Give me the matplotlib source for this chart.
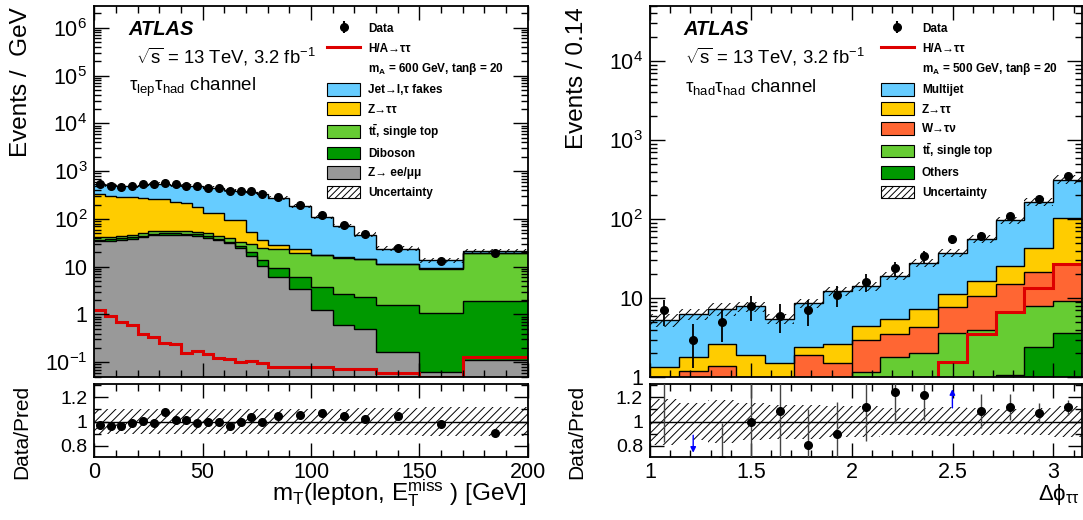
import numpy as np
import matplotlib
matplotlib.use("Agg")
import matplotlib.pyplot as plt
from matplotlib.ticker import MultipleLocator, LogLocator, FuncFormatter, FixedLocator, NullFormatter
from matplotlib.patches import Patch
from matplotlib.lines import Line2D
from matplotlib.font_manager import FontProperties

FAM = ['Liberation Sans', 'DejaVu Sans']
plt.rcParams['font.family'] = FAM
plt.rcParams['mathtext.fontset'] = 'custom'
plt.rcParams['mathtext.rm'] = 'Liberation Sans'
plt.rcParams['mathtext.it'] = 'Liberation Sans:italic'
plt.rcParams['mathtext.bf'] = 'Liberation Sans:bold'
plt.rcParams['mathtext.default'] = 'regular'
plt.rcParams['hatch.linewidth'] = 0.7
plt.rcParams['axes.axisbelow'] = False

# ---------------- tau_lep tau_had : mT(lepton, MET) ----------------
edges_l = [0, 5, 10, 15, 20, 25, 30, 35, 40, 45, 50, 55, 60, 65, 70, 75, 80,
           90, 100, 110, 120, 130, 150, 170, 200]
data_l = [526, 490, 470, 490, 526, 545, 575, 526, 500, 490, 440, 440, 390, 390,
          380, 340, 290, 195, 120, 74, 48, 25, 13.4, 19]
zll_l = [34, 35, 36, 38, 42, 46, 47, 47, 46, 45, 40, 36, 31, 25, 17, 10.5, 6.0,
         3.4, 1.25, 0.6, 0.5, 0.165, 0.062, 0.11]
diboson_l = [3, 3, 3, 3, 3, 3, 3, 3, 3, 3, 3, 2.5, 2.5, 2.5, 3, 3, 3.2, 2.6,
             2.55, 2.15, 1.85, 1.4, 1.0, 1.84]
top_l = [5, 4, 6, 5, 6, 6, 7, 6, 7, 6, 7, 5.5, 5.5, 5.5, 10, 11.5, 14.3, 13.6,
         13.8, 12.7, 11.9, 9.8, 8.1, 17.1]
ztt_l = [298, 260, 247, 236, 222, 210, 200, 173, 155, 126, 85, 91, 56, 62, 24,
         11, 4.5, 3.9, 0.4, 0.2, 0.1, 0.1, 0.1, 0.1]
fakes_l = [201, 207, 196, 215, 250, 285, 277, 292, 284, 315, 306, 305, 310, 295,
           311, 304, 250, 162, 94, 55, 32.7, 12.5, 4.4, 1.9]
signal_l = [1.24, 0.94, 0.71, 0.60, 0.40, 0.34, 0.25, 0.245, 0.16, 0.175, 0.15,
            0.12, 0.115, 0.103, 0.107, 0.098, 0.081, 0.079, 0.079, 0.074, 0.072,
            0.059, 0.05, 0.126]
unc_l = [0.10] * 16 + [0.10, 0.10, 0.10, 0.10, 0.11, 0.11, 0.12, 0.12]

# ---------------- tau_had tau_had : delta phi ----------------
nb_r = 15
edges_r = np.linspace(1.0, np.pi, nb_r + 1)
data_r = [7.0, 3.0, 5.0, 7.9, 6.0, 7.0, 11, 16, 24, 34, 56, 61, 109, 178, 353]
data_err_r = [2.6, 1.7, 2.2, 2.8, 2.4, 2.6, 3.3, 4.0, 4.9, 5.8, 7.5, 7.8, 10.4,
              13.3, 18.8]
others_r = [0.3, 0.3, 0.3, 0.3, 0.3, 0.4, 0.4, 0.5, 0.6, 0.7, 0.8, 0.9, 1.08,
            2.4, 3.6]
top_r = [0.2, 0.2, 0.2, 0.2, 0.2, 0.3, 0.4, 0.66, 1.2, 1.3, 2.8, 3.1, 5.6, 5.5, 5.5]
wtn_r = [0.4, 0.7, 0.87, 0.4, 0.4, 1.2, 0.7, 1.84, 1.7, 2.3, 4.1, 6.8, 8.5, 13.4, 17.9]
ztt_r = [0.44, 0.6, 1.28, 1.04, 0.6, 0.5, 1.1, 1.4, 1.9, 3.0, 3.6, 5.9, 10.3, 21.7, 77]
mj_r = [3.96, 4.5, 4.65, 5.96, 4.0, 6.3, 9.7, 9.9, 13.9, 20.6, 26.4, 39.3, 71.5,
        123, 212]
signal_r = [0.3, 0.3, 0.3, 0.3, 0.3, 0.3, 0.3, 0.4, 0.5, 0.7, 1.55, 3.5, 6.6, 13.4, 27]
unc_r = [0.19, 0.15, 0.18, 0.15, 0.14, 0.14, 0.13, 0.13, 0.11, 0.11, 0.12, 0.11,
         0.10, 0.11, 0.13]

C_BLUE = '#66ccff'
C_YEL = '#ffcc00'
C_LG = '#66cc33'
C_DG = '#009900'
C_GRAY = '#999999'
C_ORNG = '#ff6633'
C_RED = '#dd0000'


def draw_stack(ax, edges, comps, colors):
    bottom = np.full(len(edges) - 1, 1e-4)
    tops = []
    for vals, col in zip(comps, colors):
        top = bottom + np.array(vals, dtype=float)
        ax.stairs(top, edges, baseline=bottom, fill=True, color=col, lw=0, zorder=1)
        tops.append(top)
        bottom = top
    for top in tops:
        ax.stairs(top, edges, baseline=None, color='black', lw=1.0, zorder=1.2)
    return bottom


def log_fmt(v, pos):
    e = int(round(np.log10(v)))
    if e == 0:
        return '1'
    if e == 1:
        return '10'
    return r'$10^{%d}$' % e


def style_axis(ax, lsize=15.5):
    for s in ax.spines.values():
        s.set_linewidth(1.3)
    ax.tick_params(which='both', direction='in', top=True, right=True,
                   labelsize=lsize, width=1.0)
    ax.tick_params(which='major', length=10, pad=5)
    ax.tick_params(which='minor', length=5)


fig = plt.figure(figsize=(10.83, 5.2), dpi=100)

W = 1083.0
H = 520.0


def rect(x0, y0, x1, y1):
    return [x0 / W, 1 - y1 / H, (x1 - x0) / W, (y1 - y0) / H]


axL = fig.add_axes(rect(94.3, 5.7, 527.7, 377.3))
axLr = fig.add_axes(rect(94.3, 384.0, 527.7, 456.7))
axR = fig.add_axes(rect(650.0, 5.7, 1082.0, 377.3))
axRr = fig.add_axes(rect(650.0, 384.0, 1082.0, 456.7))

leg_font = FontProperties(family=FAM, weight='bold', size=8.5)
leg_kw = dict(loc='upper left', frameon=False, prop=leg_font, borderpad=0,
              borderaxespad=0, handlelength=2.8, handleheight=1.27,
              labelspacing=0.52, handletextpad=0.68)

# ---------- left main ----------
e_l = np.array(edges_l, dtype=float)
cen_l = 0.5 * (e_l[:-1] + e_l[1:])
tot_l = draw_stack(axL, e_l, [zll_l, diboson_l, top_l, ztt_l, fakes_l],
                   [C_GRAY, C_DG, C_LG, C_YEL, C_BLUE])
u_l = np.array(unc_l)
axL.stairs(tot_l * (1 + u_l), e_l, baseline=tot_l * (1 - u_l), fill=True,
           facecolor='none', edgecolor='black', hatch='////', lw=0, zorder=1.3)
axL.stairs(signal_l, e_l, baseline=None, color=C_RED, lw=2.2, zorder=1.5)
axL.plot(cen_l, data_l, 'o', color='black', ms=5.5, zorder=3)
axL.set_yscale('log')
axL.set_xlim(0, 200)
axL.set_ylim(0.0485, 2.9e6)
axL.xaxis.set_major_locator(MultipleLocator(50))
axL.xaxis.set_minor_locator(MultipleLocator(10))
axL.yaxis.set_major_locator(LogLocator(base=10, numticks=20))
axL.yaxis.set_minor_locator(LogLocator(base=10, subs=np.arange(2, 10), numticks=100))
axL.yaxis.set_major_formatter(FuncFormatter(log_fmt))
axL.yaxis.set_minor_formatter(NullFormatter())
style_axis(axL)
axL.tick_params(which='major', axis='y', length=11)
axL.tick_params(axis='x', labelbottom=False)

axL.text(0.078, 0.9365, 'ATLAS', transform=axL.transAxes, fontsize=14.5,
         fontweight='bold', fontstyle='italic', va='center', ha='left')
axL.text(0.097, 0.862, r'$\sqrt{s}$ = 13 TeV, 3.2 fb$^{-1}$', transform=axL.transAxes,
         fontsize=13.3, va='center', ha='left')
axL.text(0.080, 0.781, r'$\tau_{lep}\tau_{had}$ channel', transform=axL.transAxes,
         fontsize=13.5, va='center', ha='left')

h_data = axL.errorbar([np.nan], [np.nan], yerr=[1], fmt='o', color='black', ms=5.5)
handles_l = [
    h_data,
    Line2D([], [], color=C_RED, lw=2.2),
    Line2D([], [], linestyle='none'),
    Patch(facecolor=C_BLUE, edgecolor='black', lw=0.8),
    Patch(facecolor=C_YEL, edgecolor='black', lw=0.8),
    Patch(facecolor=C_LG, edgecolor='black', lw=0.8),
    Patch(facecolor=C_DG, edgecolor='black', lw=0.8),
    Patch(facecolor=C_GRAY, edgecolor='black', lw=0.8),
    Patch(facecolor='white', edgecolor='black', hatch='/////', lw=0.8),
]
labels_l = ['Data', 'H/A→ττ', r'm$_\mathbf{A}$ = 600 GeV, tanβ = 20',
            'Jet→l,τ fakes', 'Z→ττ', r'$\mathbf{t\bar{t}}$, single top',
            'Diboson', 'Z→ ee/μμ', 'Uncertainty']
axL.legend(handles_l, labels_l, bbox_to_anchor=(0.537, 0.956), **leg_kw)

# ---------- left ratio ----------
axLr.stairs(1 + u_l, e_l, baseline=1 - u_l, fill=True, facecolor='none',
            edgecolor='black', hatch='////', lw=0, zorder=1)
axLr.axhline(1, color='black', lw=1.0, zorder=1.5)
axLr.plot(cen_l, np.array(data_l) / tot_l, 'o', color='black', ms=5.5, zorder=3)
axLr.set_xlim(0, 200)
axLr.set_ylim(0.71, 1.31)
axLr.xaxis.set_major_locator(MultipleLocator(50))
axLr.xaxis.set_minor_locator(MultipleLocator(10))
axLr.yaxis.set_major_locator(FixedLocator([0.8, 1.0, 1.2]))
axLr.yaxis.set_minor_locator(MultipleLocator(0.1))
axLr.yaxis.set_major_formatter(FuncFormatter(lambda v, p: '%g' % round(v, 2)))
style_axis(axLr)
axLr.tick_params(axis='y', labelsize=14)
axLr.tick_params(axis='x', which='major', pad=4)

# ---------- right main ----------
cen_r = 0.5 * (edges_r[:-1] + edges_r[1:])
tot_r = draw_stack(axR, edges_r, [others_r, top_r, wtn_r, ztt_r, mj_r],
                   [C_DG, C_LG, C_ORNG, C_YEL, C_BLUE])
u_r = np.array(unc_r)
axR.stairs(tot_r * (1 + u_r), edges_r, baseline=tot_r * (1 - u_r), fill=True,
           facecolor='none', edgecolor='black', hatch='////', lw=0, zorder=1.3)
axR.stairs(signal_r, edges_r, baseline=None, color=C_RED, lw=2.2, zorder=1.5)
axR.errorbar(cen_r, data_r, yerr=data_err_r, fmt='o', color='black', ms=5.5,
             elinewidth=1.3, capsize=0, zorder=3)
axR.set_yscale('log')
axR.set_xlim(1, np.pi)
axR.set_ylim(1, 5e4)
axR.xaxis.set_major_locator(MultipleLocator(0.5))
axR.xaxis.set_minor_locator(MultipleLocator(0.1))
axR.yaxis.set_major_locator(LogLocator(base=10, numticks=20))
axR.yaxis.set_minor_locator(LogLocator(base=10, subs=np.arange(2, 10), numticks=100))
axR.yaxis.set_major_formatter(FuncFormatter(log_fmt))
axR.yaxis.set_minor_formatter(NullFormatter())
style_axis(axR)
axR.tick_params(which='major', axis='y', length=11)
axR.tick_params(axis='x', labelbottom=False)

axR.text(0.0764, 0.9365, 'ATLAS', transform=axR.transAxes, fontsize=14.5,
         fontweight='bold', fontstyle='italic', va='center', ha='left')
axR.text(0.081, 0.862, r'$\sqrt{s}$ = 13 TeV, 3.2 fb$^{-1}$', transform=axR.transAxes,
         fontsize=13.3, va='center', ha='left')
axR.text(0.0806, 0.781, r'$\tau_{had}\tau_{had}$ channel', transform=axR.transAxes,
         fontsize=13.5, va='center', ha='left')

handles_r = [
    h_data,
    Line2D([], [], color=C_RED, lw=2.2),
    Line2D([], [], linestyle='none'),
    Patch(facecolor=C_BLUE, edgecolor='black', lw=0.8),
    Patch(facecolor=C_YEL, edgecolor='black', lw=0.8),
    Patch(facecolor=C_ORNG, edgecolor='black', lw=0.8),
    Patch(facecolor=C_LG, edgecolor='black', lw=0.8),
    Patch(facecolor=C_DG, edgecolor='black', lw=0.8),
    Patch(facecolor='white', edgecolor='black', hatch='/////', lw=0.8),
]
labels_r = ['Data', 'H/A→ττ', r'm$_\mathbf{A}$ = 500 GeV, tanβ = 20',
            'Multijet', 'Z→ττ', 'W→τν', r'$\mathbf{t\bar{t}}$, single top',
            'Others', 'Uncertainty']
axR.legend(handles_r, labels_r, bbox_to_anchor=(0.534, 0.956), **leg_kw)

# ---------- right ratio ----------
lo, hi = 0.71, 1.31
axRr.stairs(1 + u_r, edges_r, baseline=1 - u_r, fill=True, facecolor='none',
            edgecolor='black', hatch='////', lw=0, zorder=1)
axRr.axhline(1, color='black', lw=1.0, zorder=1.5)
rat_r = np.array(data_r) / tot_r
rerr_r = np.array(data_err_r) / tot_r
ok = (rat_r > lo - 0.1) & (rat_r < hi + 0.1)
axRr.errorbar(cen_r[ok], rat_r[ok], yerr=rerr_r[ok], fmt='none',
              elinewidth=1.0, ecolor='#444444', capsize=0, zorder=2.8)
vis = ok & (rat_r <= hi)
axRr.plot(cen_r[vis], rat_r[vis], 'o', color='black', ms=5.5, zorder=3)
for xc, r in zip(cen_r[~ok], rat_r[~ok]):
    if r > hi:
        axRr.annotate('', xy=(xc, hi - 0.02), xytext=(xc, hi - 0.22),
                      arrowprops=dict(arrowstyle='-|>', color='#0000ff', lw=1.0,
                                      mutation_scale=8))
    else:
        axRr.annotate('', xy=(xc, lo + 0.01), xytext=(xc, lo + 0.2),
                      arrowprops=dict(arrowstyle='-|>', color='#0000ff', lw=1.0,
                                      mutation_scale=8))
axRr.set_xlim(1, np.pi)
axRr.set_ylim(lo, hi)
axRr.xaxis.set_major_locator(MultipleLocator(0.5))
axRr.xaxis.set_minor_locator(MultipleLocator(0.1))
axRr.xaxis.set_major_formatter(FuncFormatter(lambda v, p: '%g' % round(v, 2)))
axRr.yaxis.set_major_locator(FixedLocator([0.8, 1.0, 1.2]))
axRr.yaxis.set_minor_locator(MultipleLocator(0.1))
axRr.yaxis.set_major_formatter(FuncFormatter(lambda v, p: '%g' % round(v, 2)))
style_axis(axRr)
axRr.tick_params(axis='y', labelsize=14)
axRr.tick_params(axis='x', which='major', pad=4)

# ---------- axis titles ----------
fig.text(21 / W, 1 - 7 / H, 'Events /  GeV', rotation=90, fontsize=17.5,
         ha='center', va='top')
fig.text(22 / W, 1 - 385 / H, 'Data/Pred', rotation=90, fontsize=15,
         ha='center', va='top')
fig.text(577 / W, 1 - 7 / H, 'Events / 0.14', rotation=90, fontsize=17.5,
         ha='center', va='top')
fig.text(577 / W, 1 - 385 / H, 'Data/Pred', rotation=90, fontsize=15,
         ha='center', va='top')
fig.text(527 / W, 1 - 500 / H, r'm$_{T}$(lepton, E$_{T}^{miss}$ ) [GeV]',
         fontsize=17.5, ha='right', va='baseline')
fig.text(1080 / W, 1 - 500 / H, r'$\Delta\phi_{\tau\tau}$', fontsize=16,
         ha='right', va='baseline')

fig.savefig('out.png', dpi=100)
